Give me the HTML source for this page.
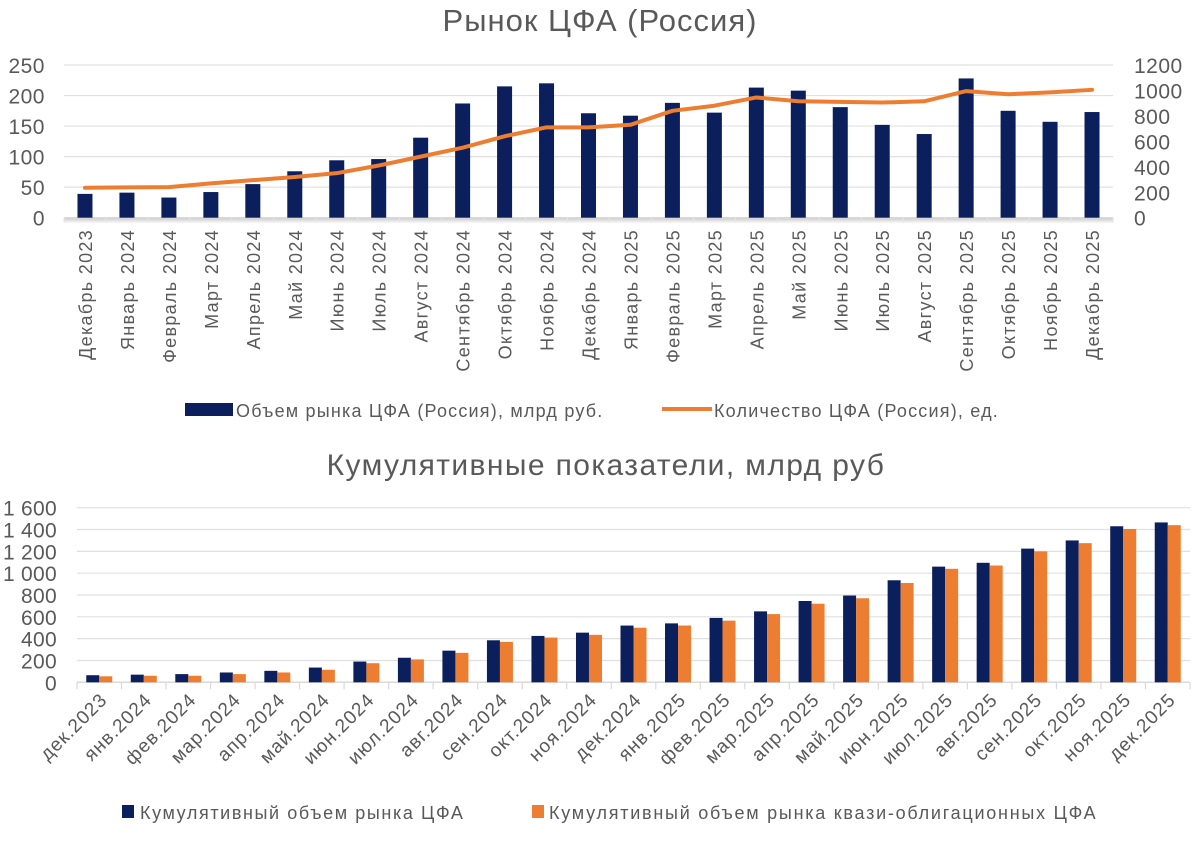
<!DOCTYPE html>
<html><head><meta charset="utf-8"><style>
body{margin:0;background:#fff;width:1200px;height:843px;overflow:hidden}
svg{font-family:"Liberation Sans",sans-serif}
</style></head><body>
<svg id="c" width="1200" height="843" viewBox="0 0 1200 843">
<defs><linearGradient id="shd" x1="0" y1="0" x2="0" y2="1"><stop offset="0" stop-color="#c8c8c8"/><stop offset="1" stop-color="#ffffff"/></linearGradient></defs>
</svg>
<script>
const catsTop=["Декабрь 2023","Январь 2024","Февраль 2024","Март 2024","Апрель 2024","Май 2024","Июнь 2024","Июль 2024","Август 2024","Сентябрь 2024","Октябрь 2024","Ноябрь 2024","Декабрь 2024","Январь 2025","Февраль 2025","Март 2025","Апрель 2025","Май 2025","Июнь 2025","Июль 2025","Август 2025","Сентябрь 2025","Октябрь 2025","Ноябрь 2025","Декабрь 2025"];
const volume=[39,41,33,42,55,76,94,96,131,187,215,220,171,167,188,172,213,208,181,152,137,228,175,157,173];
const count=[235,238,240,270,295,320,350,410,480,550,640,710,710,730,840,880,945,915,910,905,915,995,970,985,1005];
const leftTicks=[0,50,100,150,200,250];
const rightTicks=[0,200,400,600,800,1000,1200];
const catsBot=["дек.2023","янв.2024","фев.2024","мар.2024","апр.2024","май.2024","июн.2024","июл.2024","авг.2024","сен.2024","окт.2024","ноя.2024","дек.2024","янв.2025","фев.2025","мар.2025","апр.2025","май.2025","июн.2025","июл.2025","авг.2025","сен.2025","окт.2025","ноя.2025","дек.2025"];
const cumTotal=[65,70,75,90,105,135,190,225,290,385,425,455,520,540,590,650,745,795,935,1060,1095,1225,1300,1430,1465];
const cumQuasi=[55,60,60,75,90,115,175,210,270,370,410,435,500,520,565,625,720,770,910,1040,1070,1200,1275,1405,1440];
const botTicks=[0,200,400,600,800,1000,1200,1400,1600];
const botTickLabels=["0","200","400","600","800","1 000","1 200","1 400","1 600"];

const NS="http://www.w3.org/2000/svg",svg=document.getElementById('c');
function el(t,a,txt){const e=document.createElementNS(NS,t);for(const k in a)e.setAttribute(k,a[k]);if(txt!=null)e.textContent=txt;svg.appendChild(e);return e;}
const NAVY="#0b1f5c",OR="#ed7d31",GR="#595959";

// Top chart
const tx0=64,tx1=1113,ty0=217.7,ty1=65;
const tw=(tx1-tx0)/catsTop.length;
const xT=i=>tx0+tw*(i+0.5);
const yL=v=>ty0-(v/250)*(ty0-ty1);
const yR=v=>ty0-(v/1200)*(ty0-ty1);
let t=el('text',{x:600,y:31,'text-anchor':'middle','font-size':31,'letter-spacing':1,fill:GR},'Рынок ЦФА (Россия)');

let sh=el('rect',{x:tx0,y:ty0,width:tx1-tx0,height:6,fill:'url(#shd)'});

leftTicks.forEach(v=>{
  if(v>0){let g=el('line',{x1:tx0,x2:tx1,y1:yL(v),y2:yL(v),stroke:'#e0e0e0','stroke-width':1.2});}
  let l=el('text',{x:45,y:yL(v)+8,'text-anchor':'end','font-size':21,'letter-spacing':0.5,fill:GR},String(v));
  
});
rightTicks.forEach(v=>{
  let l=el('text',{x:1134,y:yR(v)+8,'text-anchor':'start','font-size':21,'letter-spacing':0.5,fill:GR},String(v));
  
});
let ax=el('line',{x1:tx0,x2:tx1,y1:ty0,y2:ty0,stroke:'#d9d9d9','stroke-width':1.5});

for(let i=0;i<=catsTop.length;i++){let tk=el('line',{x1:tx0+tw*i,x2:tx0+tw*i,y1:ty0,y2:ty0+5,stroke:'#e6e6e6','stroke-width':1});}
volume.forEach((v,i)=>{
  let b=el('rect',{x:xT(i)-7.5,y:yL(v),width:15,height:ty0-yL(v),fill:NAVY});
  
});
let p=el('polyline',{points:count.map((v,i)=>xT(i)+','+yR(v)).join(' '),fill:'none',stroke:OR,'stroke-width':4,'stroke-linejoin':'round','stroke-linecap':'round'});

catsTop.forEach((c,i)=>{
  let l=el('text',{x:0,y:0,'text-anchor':'end','font-size':18,'letter-spacing':1.3,fill:GR,transform:`translate(${xT(i)+7},229) rotate(-90)`},c);
  
});
let lg1=el('rect',{x:185,y:403,width:48,height:13,fill:NAVY});
let lt1=el('text',{x:236,y:417,'font-size':18,'letter-spacing':1.2,fill:GR},'Объем рынка ЦФА (Россия), млрд руб.');
let lg2=el('line',{x1:662,x2:712,y1:409,y2:409,stroke:OR,'stroke-width':4});
let lt2=el('text',{x:714,y:417,'font-size':18,'letter-spacing':1.2,fill:GR},'Количество ЦФА (Россия), ед.');

// Bottom chart
const bx0=77,bx1=1190,by0=682.3,by1=507.7;
const bw=(bx1-bx0)/catsBot.length;
const xB=i=>bx0+bw*(i+0.5);
const yB=v=>by0-(v/1600)*(by0-by1);
let t2=el('text',{x:606,y:475,'text-anchor':'middle','font-size':30,'letter-spacing':1.4,fill:GR},'Кумулятивные показатели, млрд руб');

botTicks.forEach((v,i)=>{
  if(v>0){let g=el('line',{x1:bx0,x2:bx1,y1:yB(v),y2:yB(v),stroke:'#e0e0e0','stroke-width':1.2});}
  let l=el('text',{x:57,y:yB(v)+8,'text-anchor':'end','font-size':21,'letter-spacing':0.3,fill:GR},botTickLabels[i]);
  
});
let ax2=el('line',{x1:bx0,x2:bx1,y1:by0,y2:by0,stroke:'#d9d9d9','stroke-width':1.5});

for(let i=0;i<=catsBot.length;i++){let tk=el('line',{x1:bx0+bw*i,x2:bx0+bw*i,y1:by0,y2:by0+7,stroke:'#d9d9d9','stroke-width':1.2});}
cumTotal.forEach((v,i)=>{
  let b=el('rect',{x:xB(i)-13,y:yB(v),width:13,height:by0-yB(v),fill:NAVY});
  
});
cumQuasi.forEach((v,i)=>{
  let b=el('rect',{x:xB(i),y:yB(v),width:13,height:by0-yB(v),fill:OR});
  
});
catsBot.forEach((c,i)=>{
  let l=el('text',{x:0,y:0,'text-anchor':'end','font-size':19,'letter-spacing':1,fill:GR,transform:`translate(${xB(i)+9},701) rotate(-45)`},c);
  
});
let lg3=el('rect',{x:122,y:805,width:12,height:13,fill:NAVY});
let lt3=el('text',{x:140,y:819,'font-size':18,'letter-spacing':1.6,fill:GR},'Кумулятивный объем рынка ЦФА');
let lg4=el('rect',{x:532,y:805,width:12,height:13,fill:OR});
let lt4=el('text',{x:549,y:819,'font-size':18,'letter-spacing':1.75,fill:GR},'Кумулятивный объем рынка квази-облигационных ЦФА');
</script>
</body></html>
